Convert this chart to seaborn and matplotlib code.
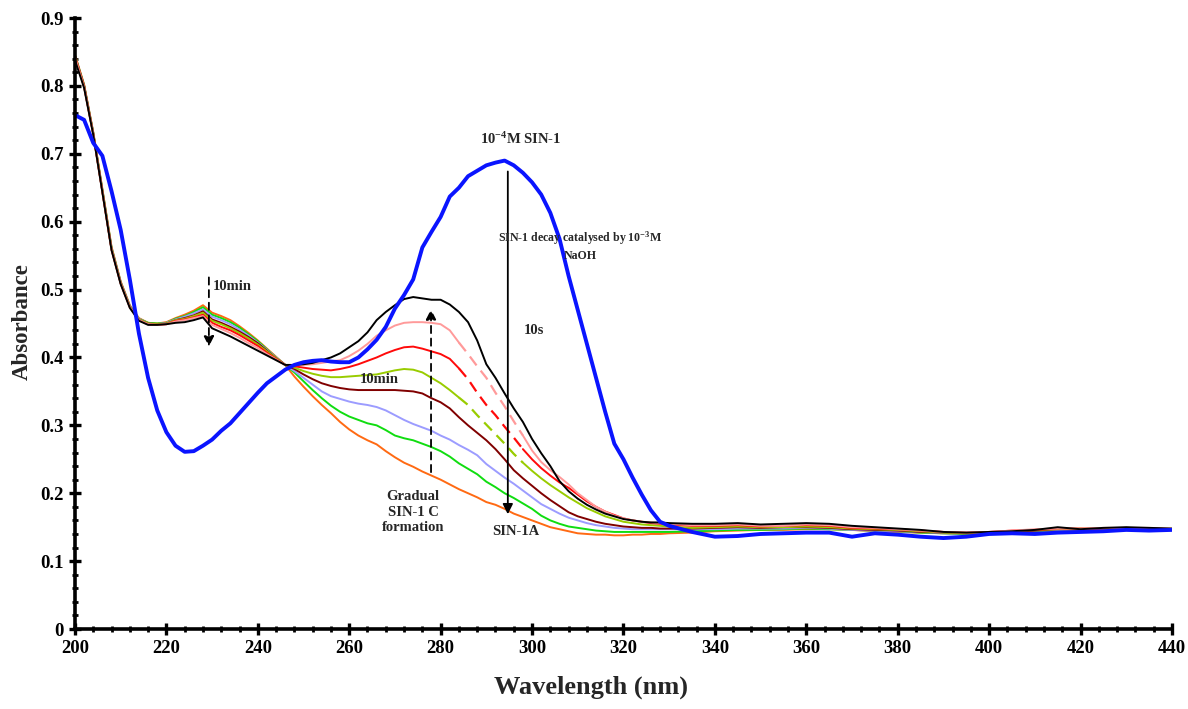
import numpy as np
import pandas as pd
import matplotlib
matplotlib.use("Agg")
import matplotlib.pyplot as plt
from matplotlib.ticker import MultipleLocator
import seaborn as sns

# ---------------- data ----------------
wavelength = [200, 202, 204, 206, 208, 210, 212, 214, 216, 218, 220, 222, 224, 226, 228,
              230, 232, 234, 236, 238, 240, 242, 244, 246, 248, 250, 252, 254, 256, 258,
              260, 262, 264, 266, 268, 270, 272, 274, 276, 278, 280, 282, 284, 286, 288,
              290, 292, 294, 296, 298, 300, 302, 304, 306, 308, 310, 312, 314, 316, 318,
              320, 322, 324, 326, 328, 330, 335, 340, 345, 350, 355, 360, 365, 370, 375,
              380, 385, 390, 395, 400, 405, 410, 415, 420, 425, 430, 435, 440]

sin1_initial = [0.757, 0.750, 0.716, 0.697, 0.645, 0.588, 0.515, 0.435, 0.370, 0.322, 0.290, 0.270, 0.261, 0.262, 0.270,
                0.279, 0.292, 0.303, 0.318, 0.333, 0.348, 0.362, 0.372, 0.382, 0.389, 0.393, 0.395, 0.396, 0.394, 0.393,
                0.393, 0.400, 0.412, 0.426, 0.445, 0.472, 0.492, 0.515, 0.562, 0.585, 0.607, 0.637, 0.650, 0.667, 0.675,
                0.683, 0.687, 0.690, 0.683, 0.672, 0.658, 0.640, 0.613, 0.575, 0.520, 0.470, 0.420, 0.370, 0.320, 0.273,
                0.250, 0.223, 0.198, 0.175, 0.158, 0.152, 0.143, 0.136, 0.137, 0.140, 0.141, 0.142, 0.142, 0.136, 0.141,
                0.139, 0.136, 0.134, 0.136, 0.140, 0.141, 0.140, 0.142, 0.143, 0.144, 0.146, 0.145, 0.146]

orange_10s = [0.846, 0.802, 0.732, 0.648, 0.563, 0.512, 0.477, 0.458, 0.451, 0.450, 0.452, 0.458, 0.463, 0.469, 0.477,
              0.466, 0.461, 0.455, 0.446, 0.436, 0.425, 0.413, 0.401, 0.389, 0.372, 0.357, 0.343, 0.330, 0.318, 0.305,
              0.294, 0.285, 0.278, 0.272, 0.262, 0.253, 0.245, 0.239, 0.232, 0.226, 0.220, 0.213, 0.206, 0.200, 0.194,
              0.187, 0.183, 0.177, 0.170, 0.165, 0.160, 0.155, 0.150, 0.147, 0.144, 0.141, 0.140, 0.139, 0.139, 0.138,
              0.138, 0.139, 0.139, 0.140, 0.140, 0.141, 0.142, 0.144, 0.145, 0.146, 0.146, 0.147, 0.147, 0.146, 0.144,
              0.143, 0.142, 0.141, 0.140, 0.141, 0.142, 0.144, 0.145, 0.146, 0.147, 0.147, 0.147, 0.147]

green_t2 = [0.845, 0.801, 0.731, 0.647, 0.562, 0.511, 0.476, 0.457, 0.451, 0.450, 0.451, 0.457, 0.461, 0.467, 0.474,
            0.463, 0.458, 0.452, 0.444, 0.434, 0.424, 0.412, 0.400, 0.389, 0.378, 0.365, 0.352, 0.340, 0.329, 0.320,
            0.313, 0.308, 0.303, 0.300, 0.293, 0.285, 0.281, 0.278, 0.273, 0.268, 0.262, 0.254, 0.244, 0.236, 0.228,
            0.217, 0.209, 0.200, 0.193, 0.185, 0.177, 0.167, 0.160, 0.155, 0.151, 0.149, 0.147, 0.145, 0.144, 0.143,
            0.143, 0.143, 0.143, 0.143, 0.143, 0.143, 0.144, 0.145, 0.146, 0.146, 0.147, 0.148, 0.147, 0.146, 0.145,
            0.144, 0.142, 0.141, 0.140, 0.141, 0.143, 0.144, 0.146, 0.147, 0.147, 0.147, 0.147, 0.147]

lavender_t3 = [0.844, 0.800, 0.731, 0.646, 0.561, 0.511, 0.476, 0.457, 0.450, 0.449, 0.451, 0.456, 0.460, 0.465, 0.471,
               0.460, 0.455, 0.449, 0.441, 0.432, 0.422, 0.411, 0.400, 0.389, 0.380, 0.370, 0.360, 0.350, 0.343, 0.339,
               0.335, 0.332, 0.330, 0.327, 0.322, 0.315, 0.308, 0.302, 0.297, 0.292, 0.285, 0.279, 0.271, 0.264, 0.256,
               0.243, 0.233, 0.223, 0.214, 0.204, 0.194, 0.184, 0.177, 0.170, 0.164, 0.160, 0.156, 0.153, 0.151, 0.149,
               0.148, 0.147, 0.147, 0.147, 0.147, 0.147, 0.147, 0.147, 0.148, 0.148, 0.148, 0.149, 0.148, 0.146, 0.145,
               0.144, 0.143, 0.141, 0.141, 0.142, 0.143, 0.145, 0.146, 0.147, 0.147, 0.148, 0.147, 0.147]

maroon_t4 = [0.844, 0.800, 0.730, 0.645, 0.560, 0.510, 0.475, 0.456, 0.450, 0.449, 0.450, 0.455, 0.458, 0.462, 0.468,
             0.456, 0.451, 0.445, 0.438, 0.430, 0.421, 0.410, 0.399, 0.389, 0.383, 0.375, 0.368, 0.362, 0.358, 0.355,
             0.353, 0.352, 0.352, 0.352, 0.352, 0.352, 0.351, 0.350, 0.347, 0.340, 0.334, 0.325, 0.312, 0.300, 0.289,
             0.278, 0.265, 0.250, 0.234, 0.222, 0.211, 0.200, 0.190, 0.181, 0.172, 0.166, 0.162, 0.158, 0.155, 0.153,
             0.151, 0.150, 0.149, 0.149, 0.148, 0.148, 0.148, 0.149, 0.150, 0.149, 0.150, 0.150, 0.149, 0.147, 0.146,
             0.145, 0.143, 0.142, 0.141, 0.142, 0.143, 0.145, 0.147, 0.147, 0.148, 0.148, 0.148, 0.147]

yellowgreen_t5 = [0.843, 0.799, 0.730, 0.645, 0.560, 0.510, 0.475, 0.456, 0.450, 0.449, 0.450, 0.455, 0.457, 0.461, 0.466,
                  0.454, 0.449, 0.443, 0.436, 0.428, 0.419, 0.409, 0.399, 0.389, 0.385, 0.380, 0.376, 0.373, 0.371, 0.371,
                  0.372, 0.373, 0.374, 0.375, 0.378, 0.381, 0.383, 0.382, 0.378, 0.370, 0.362, 0.352, 0.341, 0.330, 0.315,
                  0.301, 0.287, 0.273, 0.258, 0.245, 0.233, 0.222, 0.212, 0.203, 0.194, 0.186, 0.178, 0.172, 0.166, 0.162,
                  0.158, 0.156, 0.154, 0.153, 0.152, 0.151, 0.149, 0.150, 0.151, 0.150, 0.150, 0.151, 0.150, 0.148, 0.147,
                  0.146, 0.144, 0.142, 0.141, 0.142, 0.144, 0.146, 0.147, 0.148, 0.148, 0.148, 0.148, 0.147]

red_t6 = [0.843, 0.799, 0.729, 0.644, 0.559, 0.509, 0.474, 0.455, 0.449, 0.448, 0.449, 0.454, 0.456, 0.459, 0.463,
          0.451, 0.445, 0.440, 0.433, 0.425, 0.417, 0.407, 0.398, 0.389, 0.387, 0.385, 0.383, 0.382, 0.381, 0.383,
          0.386, 0.390, 0.395, 0.400, 0.406, 0.411, 0.415, 0.416, 0.413, 0.409, 0.405, 0.398, 0.384, 0.368, 0.348,
          0.330, 0.315, 0.298, 0.282, 0.265, 0.250, 0.237, 0.226, 0.216, 0.208, 0.198, 0.188, 0.180, 0.173, 0.168,
          0.163, 0.160, 0.158, 0.156, 0.155, 0.154, 0.152, 0.152, 0.153, 0.151, 0.152, 0.153, 0.152, 0.149, 0.148,
          0.147, 0.145, 0.143, 0.142, 0.143, 0.145, 0.146, 0.148, 0.148, 0.148, 0.149, 0.148, 0.147]

pink_t7 = [0.842, 0.798, 0.729, 0.644, 0.559, 0.509, 0.474, 0.455, 0.449, 0.448, 0.449, 0.453, 0.455, 0.458, 0.461,
           0.448, 0.442, 0.436, 0.429, 0.421, 0.414, 0.405, 0.397, 0.389, 0.389, 0.389, 0.390, 0.392, 0.394, 0.396,
           0.402, 0.410, 0.420, 0.432, 0.440, 0.447, 0.451, 0.452, 0.452, 0.451, 0.449, 0.440, 0.422, 0.405, 0.387,
           0.370, 0.348, 0.328, 0.306, 0.285, 0.263, 0.246, 0.234, 0.224, 0.213, 0.200, 0.190, 0.180, 0.173, 0.167,
           0.163, 0.160, 0.158, 0.157, 0.156, 0.155, 0.153, 0.153, 0.154, 0.152, 0.152, 0.154, 0.153, 0.150, 0.149,
           0.147, 0.145, 0.143, 0.142, 0.143, 0.145, 0.147, 0.148, 0.148, 0.149, 0.149, 0.149, 0.148]

black_10min = [0.838, 0.797, 0.728, 0.643, 0.558, 0.508, 0.473, 0.454, 0.448, 0.448, 0.449, 0.451, 0.452, 0.455, 0.459,
               0.443, 0.437, 0.431, 0.424, 0.417, 0.410, 0.403, 0.396, 0.389, 0.389, 0.390, 0.392, 0.396, 0.400, 0.406,
               0.415, 0.424, 0.437, 0.455, 0.467, 0.477, 0.486, 0.489, 0.487, 0.485, 0.485, 0.478, 0.467, 0.452, 0.425,
               0.390, 0.370, 0.347, 0.325, 0.305, 0.280, 0.259, 0.240, 0.218, 0.203, 0.192, 0.183, 0.176, 0.170, 0.166,
               0.162, 0.160, 0.158, 0.157, 0.157, 0.156, 0.155, 0.155, 0.156, 0.154, 0.155, 0.156, 0.155, 0.152, 0.150,
               0.148, 0.146, 0.143, 0.142, 0.143, 0.144, 0.146, 0.150, 0.147, 0.149, 0.150, 0.149, 0.148]

decay_series = ["orange_10s", "green_t2", "lavender_t3", "maroon_t4",
                "yellowgreen_t5", "red_t6", "pink_t7", "black_10min"]
decay_values = [orange_10s, green_t2, lavender_t3, maroon_t4,
                yellowgreen_t5, red_t6, pink_t7, black_10min]
decay_colors = ["#ff6a13", "#10dd10", "#9c9cff", "#800000",
                "#99cc00", "#ff0a0a", "#ff9a9a", "#000000"]
dashed_series = ["yellowgreen_t5", "red_t6", "pink_t7"]

x_ticks = [200, 220, 240, 260, 280, 300, 320, 340, 360, 380, 400, 420, 440]
y_ticks = [0, 0.1, 0.2, 0.3, 0.4, 0.5, 0.6, 0.7, 0.8, 0.9]
y_tick_labels = ["0", "0.1", "0.2", "0.3", "0.4", "0.5", "0.6", "0.7", "0.8", "0.9"]

# ---------------- plot ----------------
sns.set_style("white")
plt.rcParams['font.family'] = ['Liberation Serif', 'DejaVu Serif']
plt.rcParams['font.weight'] = 'bold'
plt.rcParams['mathtext.fontset'] = 'custom'
plt.rcParams['mathtext.rm'] = 'Liberation Serif:bold'
plt.rcParams['mathtext.it'] = 'Liberation Serif:bold'
plt.rcParams['mathtext.bf'] = 'Liberation Serif:bold'

fig = plt.figure(figsize=(11.88, 7.09), dpi=100)
ax = fig.add_axes([0.0631, 0.1128, 0.9234, 0.8618])

wl = np.array(wavelength)
for name, vals, col in zip(decay_series, decay_values, decay_colors):
    v = np.array(vals)
    if name in dashed_series:
        m1 = wl <= 284
        m2 = (wl >= 284) & (wl <= 298)
        m3 = wl >= 298
        sns.lineplot(x=wl[m1], y=v[m1], color=col, lw=1.4, ax=ax, estimator=None, sort=False)
        sns.lineplot(x=wl[m2], y=v[m2], color=col, lw=1.6, ax=ax, estimator=None, sort=False,
                     dashes=False, linestyle=(0, (5, 3)))
        sns.lineplot(x=wl[m3], y=v[m3], color=col, lw=1.4, ax=ax, estimator=None, sort=False)
    else:
        sns.lineplot(x=wl, y=v, color=col, lw=1.4, ax=ax, estimator=None, sort=False)

sns.lineplot(x=wl, y=np.array(sin1_initial), color="#0a14ff", lw=2.8, ax=ax,
             estimator=None, sort=False)

ax.set_xlim(200, 440)
ax.set_ylim(0, 0.9)
ax.set_xticks(x_ticks)
ax.set_xticklabels([str(t) for t in x_ticks])
ax.set_yticks(y_ticks)
ax.set_yticklabels(y_tick_labels)
ax.xaxis.set_minor_locator(MultipleLocator(4))
ax.yaxis.set_minor_locator(MultipleLocator(0.02))

for s in ["top", "right"]:
    ax.spines[s].set_visible(False)
for s in ["left", "bottom"]:
    ax.spines[s].set_linewidth(2.6)
    ax.spines[s].set_color("black")

ax.tick_params(axis="both", which="major", direction="inout", length=8, width=2.4,
               labelsize=13.5, colors="black", pad=4)
ax.tick_params(axis="both", which="minor", direction="inout", length=5, width=2.0,
               colors="black")
ax.tick_params(axis="y", which="both", left=True, right=False)
ax.tick_params(axis="x", which="both", bottom=True, top=False)
for lbl in ax.get_xticklabels() + ax.get_yticklabels():
    lbl.set_fontweight("bold")

ax.set_xlabel("Wavelength (nm)", fontsize=19, fontweight="bold")
ax.set_ylabel("Absorbance", fontsize=16.5, fontweight="bold")
ax.xaxis.set_label_coords(0.470, -0.076)
ax.yaxis.set_label_coords(-0.038, 0.504)
ax.grid(False)

# annotations
ax.annotate("", xy=(294.7, 0.165), xytext=(294.7, 0.678),
            arrowprops=dict(arrowstyle="-|>,head_length=0.6,head_width=0.3", color="black", lw=1.3))
ax.text(297.5, 0.722, r"10$^{-4}$M SIN-1", fontsize=10.5, fontweight="bold", ha="center", va="center")
ax.text(310.5, 0.565, "SIN-1 decay catalysed by 10$^{-3}$M\nNaOH", fontsize=8.6,
        fontweight="bold", ha="center", va="center", linespacing=1.35)
ax.text(300.5, 0.44, "10s", fontsize=10.5, fontweight="bold", ha="center", va="center")
ax.text(296.5, 0.143, "SIN-1A", fontsize=10.5, fontweight="bold", ha="center", va="center")

ax.annotate("", xy=(277.9, 0.475), xytext=(277.9, 0.227),
            arrowprops=dict(arrowstyle="-|>,head_length=0.6,head_width=0.3", color="black",
                            lw=1.3, linestyle=(0, (4, 3))))
ax.text(266.5, 0.367, "10min", fontsize=10.5, fontweight="bold", ha="center", va="center")
ax.text(274.0, 0.172, "Gradual\nSIN-1 C\nformation", fontsize=10.5, fontweight="bold",
        ha="center", va="center", linespacing=1.25)

ax.annotate("", xy=(229.3, 0.412), xytext=(229.3, 0.522),
            arrowprops=dict(arrowstyle="-|>,head_length=0.6,head_width=0.3", color="black",
                            lw=1.3, linestyle=(0, (4, 3))))
ax.text(230.2, 0.504, "10min", fontsize=10.5, fontweight="bold", ha="left", va="center")

fig.savefig("out.png", dpi=100)
